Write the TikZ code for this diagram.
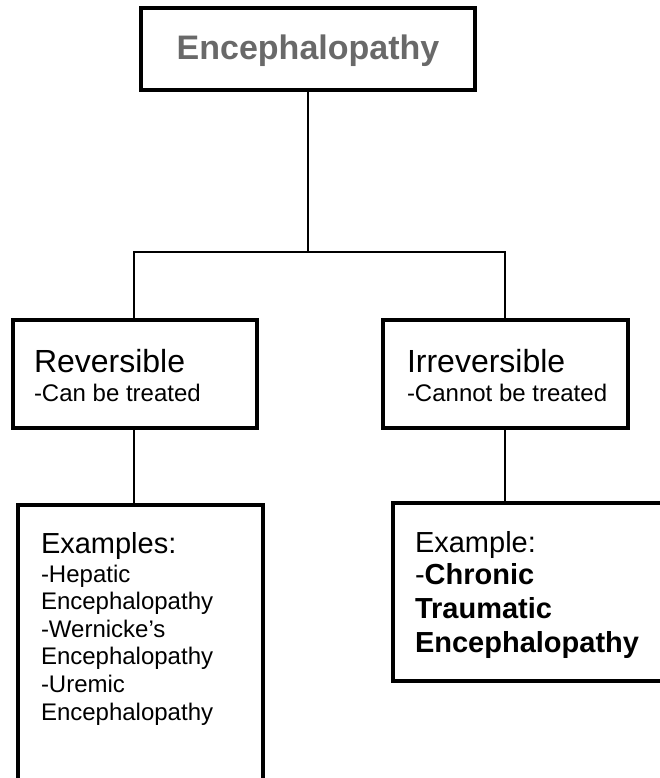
\documentclass[tikz,border=0pt]{standalone}
\usepackage{fontspec}
\setmainfont{Liberation Sans}
\definecolor{titlegray}{RGB}{105,105,105}
\begin{document}
\begin{tikzpicture}[x=1pt,y=-1pt,
  boxstyle/.style={draw=black, line width=3.5pt, inner sep=0pt, rectangle},
  conn/.style={draw=black, line width=2pt},
  txt/.style={anchor=base west, inner sep=0pt, outer sep=0pt}]
\useasboundingbox (0,0) rectangle (660,778);
\clip (0,0) rectangle (660,778);
% boxes
\node[boxstyle, minimum width=334pt, minimum height=82pt] (top) at (308,49) {};
\node[boxstyle, minimum width=244pt, minimum height=108pt] (rev) at (135,374) {};
\node[boxstyle, minimum width=245pt, minimum height=108pt] (irr) at (505.5,374) {};
\node[boxstyle, minimum width=245pt, minimum height=320pt] (exl) at (140.5,665) {};
\node[boxstyle, minimum width=307pt, minimum height=178pt] (exr) at (546.5,592) {};
% connectors
\coordinate (hl) at (134,252);
\coordinate (hr) at (505,252);
\draw[conn] (top.south) -- (top.south |- hl);
\draw[conn] (rev.north -| hl) -- (hl) -- (hr) -- (irr.north -| hr);
\draw[conn] (rev.south -| hl) -- (exl.north -| hl);
\draw[conn] (irr.south -| hr) -- (exr.north -| hr);
% texts
\node[anchor=base, inner sep=0pt, text=titlegray, font=\fontsize{34}{40}\selectfont\bfseries] (title) at (308,60) {Encephalopathy};
\node[txt, font=\fontsize{32}{38}\selectfont] (revt) at (34,372) {Reversible};
\node[txt, font=\fontsize{24}{29}\selectfont] (revs) at (34,401) {-Can be treated};
\node[txt, font=\fontsize{32}{38}\selectfont] (irrt) at (407,372) {Irreversible};
\node[txt, font=\fontsize{24}{29}\selectfont] (irrs) at (407,401) {-Cannot be treated};
\node[txt, font=\fontsize{29}{34}\selectfont] (exlt) at (41,553) {Examples:};
\node[txt, font=\fontsize{24}{29}\selectfont] (l1) at (41,582) {-Hepatic};
\node[txt, font=\fontsize{24}{29}\selectfont] (l2) at (41,609) {Encephalopathy};
\node[txt, font=\fontsize{24}{29}\selectfont] (l3) at (41,637) {-Wernicke’s};
\node[txt, font=\fontsize{24}{29}\selectfont] (l4) at (41,664) {Encephalopathy};
\node[txt, font=\fontsize{24}{29}\selectfont] (l5) at (41,692) {-Uremic};
\node[txt, font=\fontsize{24}{29}\selectfont] (l6) at (41,720) {Encephalopathy};
\node[txt, font=\fontsize{29}{34}\selectfont] (exrt) at (415,552) {Example:};
\node[txt, font=\fontsize{29}{34}\selectfont] (r1) at (415,584) {-\textbf{Chronic}};
\node[txt, font=\fontsize{29}{34}\selectfont\bfseries] (r2) at (415,618) {Traumatic};
\node[txt, font=\fontsize{29}{34}\selectfont\bfseries] (r3) at (415,652) {Encephalopathy};
\end{tikzpicture}
\end{document}
